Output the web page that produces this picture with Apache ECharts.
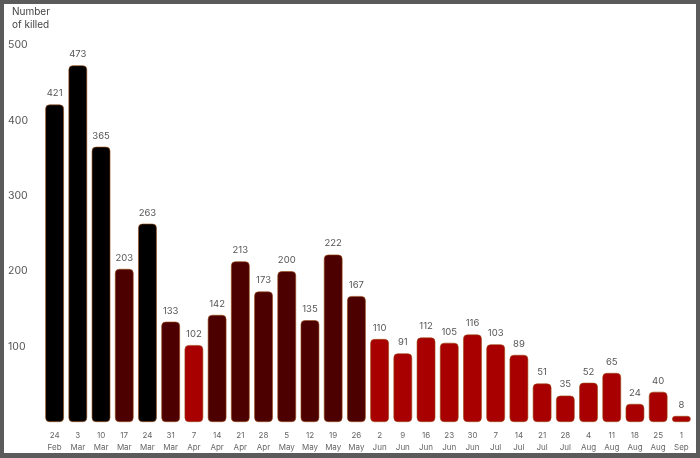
<!DOCTYPE html>
<html>
<head>
<meta charset="utf-8">
<script src="https://cdn.jsdelivr.net/npm/echarts@6/dist/echarts.min.js"></script>
<style>
	html, body { margin: 0; padding: 0; background: #5b5b5b; }
	#frame { position: absolute; left: 4px; top: 4px; width: 692px; height: 449px; background: #fff; }
	#bar { position: absolute; left: -4px; top: -4px; width: 700px; height: 458px; }
</style>
</head>
<body>
<div id="frame"><div id="bar"></div></div>
<script>
var weeks = ['24\nFeb','3\nMar','10\nMar','17\nMar','24\nMar','31\nMar','7\nApr','14\nApr','21\nApr','28\nApr',
	'5\nMay','12\nMay','19\nMay','26\nMay','2\nJun','9\nJun','16\nJun','23\nJun','30\nJun','7\nJul',
	'14\nJul','21\nJul','28\nJul','4\nAug','11\nAug','18\nAug','25\nAug','1\nSep'];
var killed = [421, 473, 365, 203, 263, 133, 102, 142, 213, 173,
	200, 135, 222, 167, 110, 91, 112, 105, 116, 103,
	89, 51, 35, 52, 65, 24, 40, 8];
// 0 = black, 1 = dark red, 2 = red
var tier = [0, 0, 0, 1, 0, 1, 2, 1, 1, 1,
	1, 1, 1, 1, 2, 2, 2, 2, 2, 2,
	2, 2, 2, 2, 2, 2, 2, 2];
var yTicks = [0, 100, 200, 300, 400, 500];

window.onload = function(){
	var tierColors = ['#000000', '#4c0000', '#a80000'];
	var myChart = echarts.init(document.getElementById('bar'));
	var option = {
		animation: false,
		title: {
			text: 'Number\nof killed',
			left: 12,
			top: 5,
			padding: 0,
			textStyle: {
				fontFamily: 'Inter',
				fontSize: 10,
				fontWeight: 'normal',
				color: '#444',
				lineHeight: 13
			}
		},
		grid: {
			left: 43,
			right: 7,
			top: 45,
			bottom: 36
		},
		xAxis: {
			type: 'category',
			data: weeks,
			axisLine: { show: false },
			axisTick: { show: false },
			axisLabel: {
				interval: 0,
				margin: 8,
				fontFamily: 'Inter',
				fontSize: 8,
				lineHeight: 12,
				color: '#666'
			}
		},
		yAxis: {
			type: 'value',
			min: yTicks[0],
			max: yTicks[yTicks.length - 1],
			interval: 100,
			splitLine: { show: false },
			axisLine: { show: false },
			axisTick: { show: false },
			axisLabel: {
				align: 'left',
				margin: 35,
				fontFamily: 'Inter',
				fontSize: 10.5,
				color: '#555',
				formatter: function(v){ return v === 0 ? '' : v; }
			}
		},
		series: [{
			type: 'bar',
			barCategoryGap: '20%',
			data: killed.map(function(v, i){
				return {
					value: v,
					itemStyle: { color: tierColors[tier[i]] }
				};
			}),
			itemStyle: {
				borderRadius: 4,
				borderColor: '#9a4a10',
				borderWidth: 0.6
			},
			label: {
				show: true,
				position: 'top',
				distance: 6,
				fontFamily: 'Inter',
				fontSize: 9.5,
				color: '#555'
			}
		}]
	};
	myChart.setOption(option);
	window.addEventListener('resize', function(){
		myChart.resize();
	});
};
</script>
</body>
</html>
